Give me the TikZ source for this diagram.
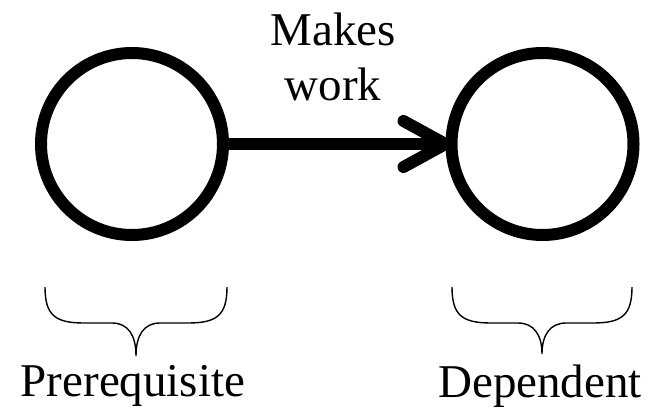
\documentclass[tikz,border=0pt]{standalone}
\usepackage{fontspec}
\newfontfamily\tms{Liberation Serif}
\begin{document}
\begin{tikzpicture}[x=1pt,y=-1pt,
  entity/.style={circle,draw=black,line width=12pt,minimum size=182pt,inner sep=0pt},
  txt/.style={font=\tms\fontsize{47pt}{55pt}\selectfont,inner sep=0pt},
  link/.style={line width=12pt,black},
  barb/.style={line width=12pt,black,line cap=round,line join=round},
  bracepath/.style={line width=1.4pt,black}]
\useasboundingbox (0,0) rectangle (651,408);
\node[entity] (pre) at (132,144) {};
\node[entity] (dep) at (542.5,144) {};
\draw[link] (pre.east) -- (dep.west);
\draw[barb] ([shift={(-42,-23)}]dep.west) -- (dep.west) -- ([shift={(-42,23)}]dep.west);
\node[txt,anchor=base,align=center] (mw) at (333,100) {Makes\\work};
% braces
\coordinate (b1) at (136,356);
\draw[bracepath] ([shift={(-91,-69)}]b1) .. controls ([shift={(-91,-41)}]b1) and ([shift={(-81,-33)}]b1) .. ([shift={(-52,-33)}]b1)
  -- ([shift={(-24,-33)}]b1) .. controls ([shift={(-8,-33)}]b1) and ([shift={(0,-21)}]b1) .. (b1)
  .. controls ([shift={(0,-21)}]b1) and ([shift={(8,-33)}]b1) .. ([shift={(24,-33)}]b1)
  -- ([shift={(52,-33)}]b1) .. controls ([shift={(81,-33)}]b1) and ([shift={(91,-41)}]b1) .. ([shift={(91,-69)}]b1);
\coordinate (b2) at (542,354);
\draw[bracepath] ([shift={(-90,-67)}]b2) .. controls ([shift={(-90,-39)}]b2) and ([shift={(-80,-31)}]b2) .. ([shift={(-51,-31)}]b2)
  -- ([shift={(-24,-31)}]b2) .. controls ([shift={(-8,-31)}]b2) and ([shift={(0,-19)}]b2) .. (b2)
  .. controls ([shift={(0,-19)}]b2) and ([shift={(8,-31)}]b2) .. ([shift={(24,-31)}]b2)
  -- ([shift={(51,-31)}]b2) .. controls ([shift={(80,-31)}]b2) and ([shift={(90,-39)}]b2) .. ([shift={(90,-67)}]b2);
\node[txt,anchor=base] (prl) at (133,396) {Prerequisite};
\node[txt,anchor=base] (dpl) at (540,397) {Dependent};
\end{tikzpicture}
\end{document}
